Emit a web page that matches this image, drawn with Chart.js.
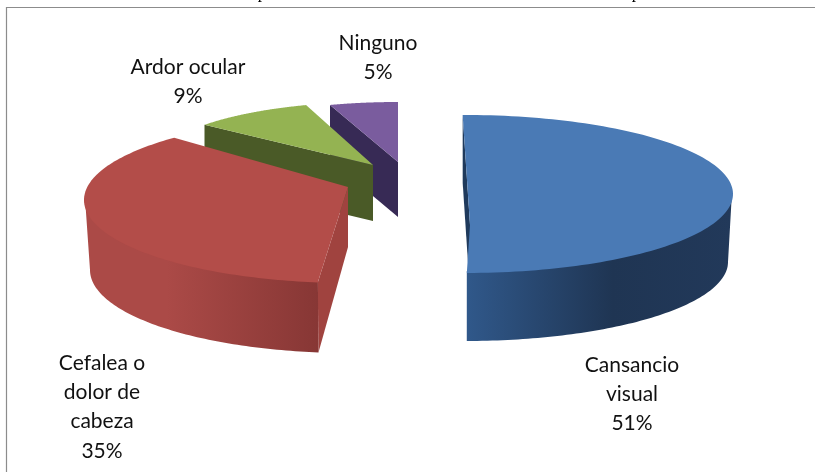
<!DOCTYPE html>
<html><head><meta charset="utf-8">
<style>html,body{margin:0;padding:0;background:#fff}canvas{display:block}</style>
<script src="https://cdn.jsdelivr.net/npm/chart.js@4"></script>
</head><body><canvas id="c" width="815" height="472"></canvas>
<script>
const categories = ["Cansancio visual","Cefalea o dolor de cabeza","Ardor ocular","Ninguno"];
const values = [51,35,9,5];
const labelLines = [["Cansancio","visual","51%"],["Cefalea o","dolor de","cabeza","35%"],["Ardor ocular","9%"],["Ninguno","5%"]];
const topColors = ["#4a7ab5","#b34d49","#94b352","#7a5c9e"];
const faceColors = ["#1f3a5c","#a0433f","#4a5a27","#372a55"];
const wallColors = [["#30588a","#1f3553"],["#ab4a47","#873735"],["#4a5a27","#4a5a27"],["#372a55","#372a55"]];
// view of each exploded slice: rim ellipse, apex, depth, angle mapping
const views = [
 {cx:465,cy:194,rx:268,ry:79,ax:470,ay:225,d:68,ad:68,a0:-0.5,k:0.981,taper:5},
 {cx:350,cy:200,rx:266,ry:83,ax:348,ay:187,d:70,ad:60,a0:-4.9,k:1.045,taper:6},
 {cx:374,cy:165,rx:220,ry:63,ax:373,ay:165,d:56,ad:56,a0:0,k:1,taper:0},
 {cx:398,cy:162,rx:220,ry:60,ax:398,ay:162,d:55,ad:55,a0:0,k:1,taper:0}
];
const labelPos = [[632,365],[102,363],[188,67],[378,43]];
const pie3d = {
 id:'pie3d',
 beforeDatasetsDraw(chart){
  const ctx = chart.ctx, arcs = chart.getDatasetMeta(0).data;
  const rad = Math.PI/180;
  for(let i=arcs.length-1;i>=0;i--){
   const v = views[i], arc = arcs[i];
   const t0 = (arc.startAngle+Math.PI/2)/rad, t1 = (arc.endAngle+Math.PI/2)/rad;
   const map = t => (v.a0+v.k*t);
   const rim = (deg,dy=0,tp=0) => [v.cx+(v.rx-tp)*Math.sin(deg*rad), v.cy-v.ry*Math.cos(deg*rad)+dy];
   const m0 = map(t0), m1 = map(t1);
   // radial face at the slice's start edge
   const s = rim(m0), sb = rim(m0,v.d,v.taper);
   ctx.fillStyle = faceColors[i];
   ctx.beginPath(); ctx.moveTo(s[0],s[1]); ctx.lineTo(v.ax,v.ay); ctx.lineTo(v.ax,v.ay+v.ad); ctx.lineTo(sb[0],sb[1]); ctx.closePath(); ctx.fill();
   // outer wall, only where it faces the viewer
   const w0 = Math.max(m0,90), w1 = Math.min(m1,270);
   if(w1>w0){
    const pts=[]; const n=80;
    for(let j=0;j<=n;j++) pts.push(rim(w0+(w1-w0)*j/n,-2,1));
    for(let j=n;j>=0;j--) pts.push(rim(w0+(w1-w0)*j/n,v.d,v.taper));
    const xs=pts.map(p=>p[0]); const g=ctx.createLinearGradient(Math.min(...xs),0,Math.max(...xs),0);
    if(i===0){g.addColorStop(0,wallColors[0][0]);g.addColorStop(0.55,wallColors[0][1]);g.addColorStop(1,"#22395a");}
    else {g.addColorStop(0,wallColors[i][0]);g.addColorStop(0.35,wallColors[i][0]);g.addColorStop(1,wallColors[i][1]);}
    ctx.fillStyle=g; ctx.beginPath(); pts.forEach((p,j)=>j?ctx.lineTo(p[0],p[1]):ctx.moveTo(p[0],p[1])); ctx.closePath(); ctx.fill();
   }
   // top surface
   ctx.fillStyle = arc.options.backgroundColor;
   ctx.beginPath(); ctx.moveTo(v.ax,v.ay);
   const n=120; for(let j=0;j<=n;j++){const p=rim(m0+(m1-m0)*j/n); ctx.lineTo(p[0],p[1]);}
   ctx.closePath(); ctx.fill();
  }
  return false;
 },
 afterDraw(chart){
  const ctx = chart.ctx;
  ctx.save();
  ctx.strokeStyle="#8c8c8c"; ctx.lineWidth=1.2;
  ctx.beginPath(); ctx.moveTo(6.5,472); ctx.lineTo(6.5,7.5); ctx.lineTo(815,7.5); ctx.stroke();
  ctx.fillStyle="#000"; ctx.textAlign="center"; ctx.textBaseline="alphabetic";
  ctx.font='17px "Liberation Serif"';
  ctx.fillText("p",262,-2); ctx.fillText("p",636,-2);
  ctx.font='21px Lato';
  ctx.fillStyle="#111";
  labelLines.forEach((lines,i)=>lines.forEach((t,j)=>ctx.fillText(t,labelPos[i][0],labelPos[i][1]+7+j*29.2)));
  ctx.restore();
 }
};
new Chart(document.getElementById('c'),{
 type:'pie',
 data:{labels:categories,datasets:[{data:values,backgroundColor:topColors,borderWidth:0}]},
 options:{responsive:false,animation:false,plugins:{legend:{display:false},tooltip:{enabled:false}}},
 plugins:[pie3d]
});
</script></body></html>
